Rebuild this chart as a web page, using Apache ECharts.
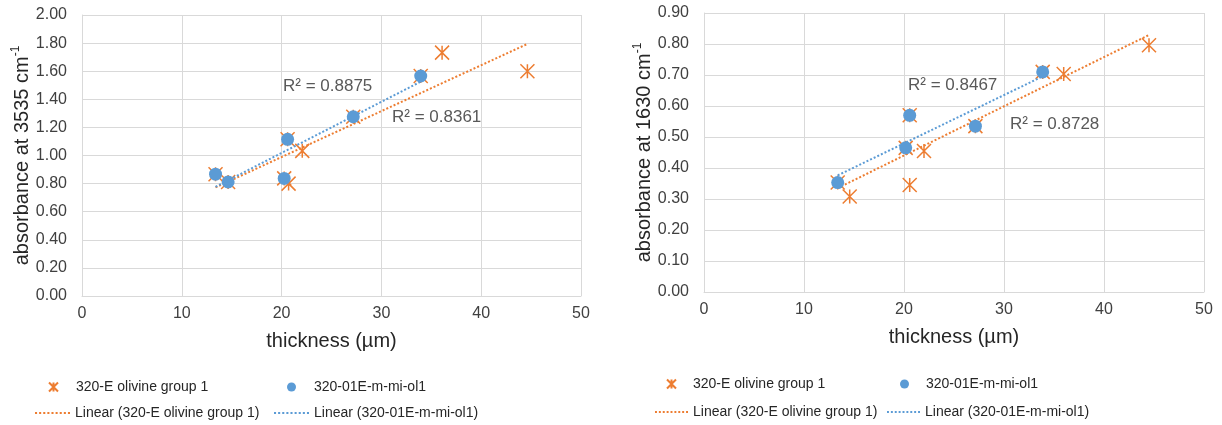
<!DOCTYPE html>
<html>
<head>
<meta charset="utf-8">
<script src="https://cdn.jsdelivr.net/npm/echarts@6/dist/echarts.min.js"></script>
<style>
  html, body { margin: 0; padding: 0; background: #fff; }
  #chart { width: 1222px; height: 425px; }
</style>
</head>
<body>
<div id="chart"></div>
<script>
// left panel: absorbance at 3535 cm-1
const thickness3535Group = [13.38, 14.64, 20.26, 20.6, 20.7, 22.07, 27.18, 33.94, 36.08, 44.63]
const abs3535Group = [0.867, 0.812, 0.837, 1.115, 0.80, 1.033, 1.276, 1.566, 1.732, 1.60]
const thickness3535Ol1 = [13.38, 14.64, 20.26, 20.6, 27.18, 33.94]
const abs3535Ol1 = [0.867, 0.812, 0.837, 1.115, 1.276, 1.566]

// right panel: absorbance at 1630 cm-1
const thickness1630Group = [13.37, 14.57, 20.17, 20.57, 20.57, 22.0, 27.14, 33.87, 35.97, 44.5]
const abs1630Group = [0.353, 0.308, 0.465, 0.57, 0.345, 0.455, 0.535, 0.71, 0.703, 0.796]
const thickness1630Ol1 = [13.37, 20.17, 20.57, 27.14, 33.87]
const abs1630Ol1 = [0.353, 0.465, 0.57, 0.535, 0.71]

// R² texts as printed on the chart
const r2Labels = ['R² = 0.8875', 'R² = 0.8361', 'R² = 0.8467', 'R² = 0.8728']

const ORANGE = '#ED7D31'
const BLUE = '#5B9BD5'
const GROUP = '320-E olivine group 1'
const OL1 = '320-01E-m-mi-ol1'
const LIN_GROUP = 'Linear (320-E olivine group 1)'
const LIN_OL1 = 'Linear (320-01E-m-mi-ol1)'
const ASTERISK = 'path://M0,0L10,10M10,0L0,10M5,0L5,10'
// row of small dots for the trendline legend icons
let DOTS = 'path://'
for (let i = 0; i < 9; i++) DOTS += 'M' + i * 4 + ',0h2v2h-2z'

const zip = (xs, ys) => xs.map((x, i) => [x, ys[i]])

// least squares line, drawn over the range of the data like excel does
function trend(xs, ys) {
  const n = xs.length
  const mx = xs.reduce((a, b) => a + b, 0) / n
  const my = ys.reduce((a, b) => a + b, 0) / n
  let sxy = 0, sxx = 0
  xs.forEach((x, i) => {
    sxy += (x - mx) * (ys[i] - my)
    sxx += (x - mx) * (x - mx)
  })
  const b = sxy / sxx
  const a = my - b * mx
  const lo = Math.min(...xs), hi = Math.max(...xs)
  return [[lo, a + b * lo], [hi, a + b * hi]]
}

function xAxisOf(grid) {
  return {
    type: 'value', gridIndex: grid, min: 0, max: 50, interval: 10,
    name: 'thickness (µm)', nameLocation: 'middle', nameGap: 35,
    nameTextStyle: { fontFamily: 'Liberation Sans', fontSize: 20, color: '#262626' },
    axisLine: { lineStyle: { color: '#D9D9D9' } },
    axisTick: { show: false },
    axisLabel: { fontFamily: 'Liberation Sans', fontSize: 16, color: '#404040', margin: 10 },
    splitLine: { lineStyle: { color: '#D9D9D9' } }
  }
}

function yAxisOf(grid, max, interval, wave) {
  return {
    type: 'value', gridIndex: grid, min: 0, max: max, interval: interval,
    name: '{a|absorbance at ' + wave + ' cm}{s|-1}', nameLocation: 'middle',
    nameGap: 48, nameMoveOverlap: false,
    nameTextStyle: {
      rich: {
        a: { fontFamily: 'Liberation Sans', fontSize: 20, color: '#262626', lineHeight: 24 },
        s: { fontFamily: 'Liberation Sans', fontSize: 12, color: '#262626', lineHeight: 24, verticalAlign: 'top' }
      }
    },
    axisLine: { show: true, lineStyle: { color: '#D9D9D9' } },
    axisTick: { show: false },
    axisLabel: {
      fontFamily: 'Liberation Sans', fontSize: 16, color: '#404040', margin: 15,
      formatter: v => v.toFixed(2)
    },
    splitLine: { lineStyle: { color: '#D9D9D9' } }
  }
}

function seriesOf(grid, gx, gy, ox, oy) {
  return [
    {
      name: GROUP, type: 'scatter', xAxisIndex: grid, yAxisIndex: grid, z: 2,
      symbol: ASTERISK, symbolSize: 14,
      itemStyle: { color: ORANGE, borderColor: ORANGE, borderWidth: 1.5, opacity: 1 },
      emphasis: { disabled: true },
      data: zip(gx, gy)
    },
    {
      name: LIN_GROUP, type: 'line', xAxisIndex: grid, yAxisIndex: grid, z: 3,
      symbol: 'none', silent: true,
      lineStyle: { color: ORANGE, width: 2, type: [2, 2] },
      itemStyle: { color: ORANGE },
      data: trend(gx, gy)
    },
    {
      name: LIN_OL1, type: 'line', xAxisIndex: grid, yAxisIndex: grid, z: 3,
      symbol: 'none', silent: true,
      lineStyle: { color: BLUE, width: 2, type: [2, 2] },
      itemStyle: { color: BLUE },
      data: trend(ox, oy)
    },
    {
      name: OL1, type: 'scatter', xAxisIndex: grid, yAxisIndex: grid, z: 4,
      symbol: 'circle', symbolSize: 13,
      itemStyle: { color: BLUE, opacity: 1 },
      emphasis: { disabled: true },
      data: zip(ox, oy)
    }
  ]
}

function legendItem(name, icon, left, top, w, h) {
  return {
    data: [{ name: name, icon: icon }], left: left, top: top, padding: 0,
    itemWidth: w, itemHeight: h, selectedMode: false,
    textStyle: { fontFamily: 'Liberation Sans', fontSize: 14, color: '#262626' }
  }
}

function r2Text(text, left, top) {
  return {
    type: 'text', left: left, top: top, silent: true,
    style: { text: text, font: '17px "Liberation Sans"', fill: '#595959' }
  }
}

const chart = echarts.init(document.getElementById('chart'))
chart.setOption({
  animation: false,
  backgroundColor: '#fff',
  grid: [
    { left: 82, top: 15, width: 499, height: 281 },
    { left: 704, top: 13, width: 500, height: 279 }
  ],
  xAxis: [xAxisOf(0), xAxisOf(1)],
  yAxis: [yAxisOf(0, 2, 0.2, '3535'), yAxisOf(1, 0.9, 0.1, '1630')],
  legend: [
    legendItem(GROUP, ASTERISK, 48, 380, 35, 9),
    legendItem(OL1, 'circle', 287, 380, 35, 9),
    legendItem(LIN_GROUP, DOTS, 35, 406, 35, 9),
    legendItem(LIN_OL1, DOTS, 274, 406, 35, 9),
    legendItem(GROUP, ASTERISK, 666, 377, 33, 9),
    legendItem(OL1, 'circle', 900, 377, 33, 9),
    legendItem(LIN_GROUP, DOTS, 655, 405, 33, 9),
    legendItem(LIN_OL1, DOTS, 887, 405, 33, 9)
  ],
  graphic: [
    r2Text(r2Labels[0], 283, 78),
    r2Text(r2Labels[1], 392, 109),
    r2Text(r2Labels[2], 908, 77),
    r2Text(r2Labels[3], 1010, 116)
  ],
  series: [
    ...seriesOf(0, thickness3535Group, abs3535Group, thickness3535Ol1, abs3535Ol1),
    ...seriesOf(1, thickness1630Group, abs1630Group, thickness1630Ol1, abs1630Ol1)
  ]
})
</script>
</body>
</html>
